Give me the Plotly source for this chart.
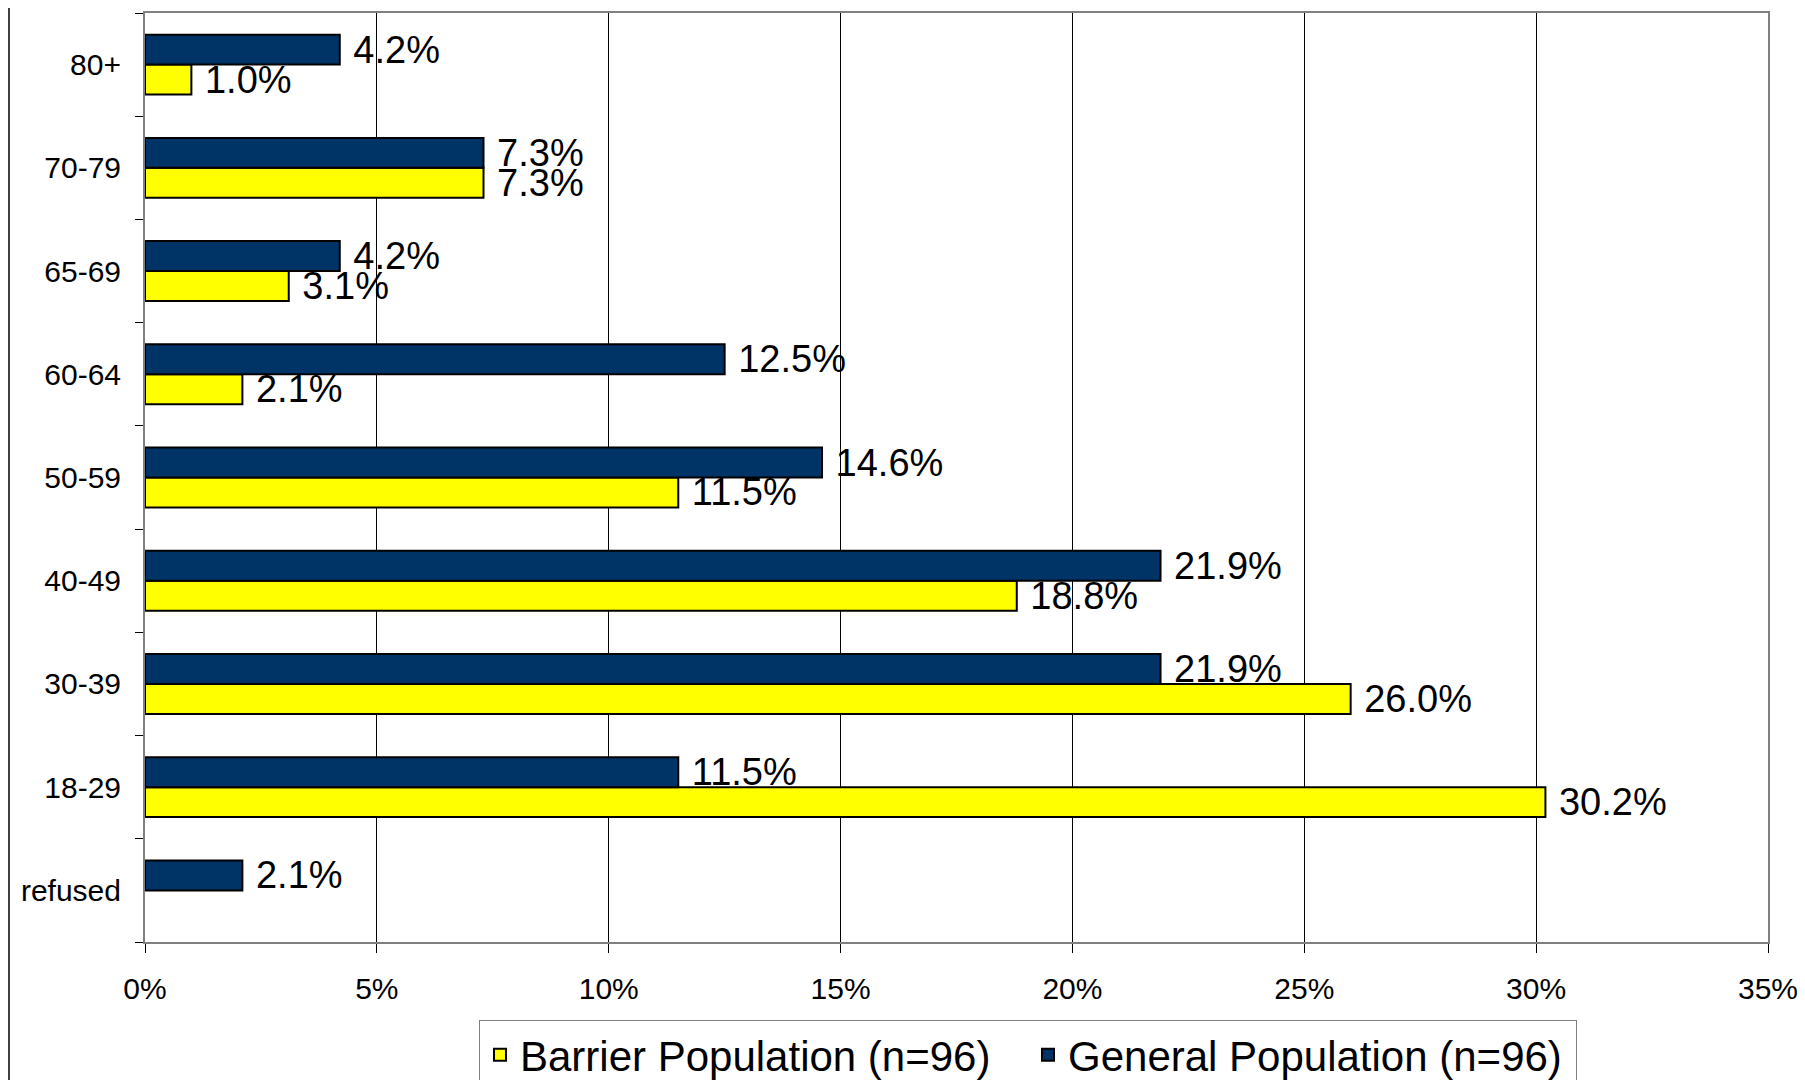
import plotly.graph_objects as go

# Categories listed bottom to top
categories = ["refused", "18-29", "30-39", "40-49", "50-59", "60-64", "65-69", "70-79", "80+"]
barrier = [None, 30.2, 26.0, 18.8, 11.5, 2.1, 3.1, 7.3, 1.0]
general = [2.1, 11.5, 21.9, 21.9, 14.6, 12.5, 4.2, 7.3, 4.2]
x_ticks = [0, 5, 10, 15, 20, 25, 30, 35]
x_tick_labels = ["0%", "5%", "10%", "15%", "20%", "25%", "30%", "35%"]

FONT = "Liberation Sans, Arial, sans-serif"
W, H = 1805, 1080
OFF = 8  # page body margin offset
L, R, T, B = 145 - OFF, 37 + OFF, 13 - OFF, 138 + OFF
plot_w = W - L - R
plot_h = H - T - B

fig = go.Figure()
fig.add_trace(go.Bar(
    y=categories, x=barrier, orientation="h", name="Barrier Population (n=96)",
    marker=dict(color="#FFFF00", line=dict(color="#000000", width=2)),
    texttemplate="\u00a0%{x:.1f}%", textposition="outside", constraintext="none",
    cliponaxis=False, textfont=dict(size=38, color="#000000", family=FONT),
))
fig.add_trace(go.Bar(
    y=categories, x=general, orientation="h", name="General Population (n=96)",
    marker=dict(color="#003366", line=dict(color="#000000", width=2)),
    texttemplate="\u00a0%{x:.1f}%", textposition="outside", constraintext="none",
    cliponaxis=False, textfont=dict(size=38, color="#000000", family=FONT),
))

fig.update_layout(
    width=W, height=H,
    margin=dict(l=L, r=R, t=T, b=B, pad=0, autoexpand=False),
    paper_bgcolor="white", plot_bgcolor="white",
    barmode="group", bargap=0.42, bargroupgap=0,
    font=dict(family=FONT, color="#000000"),
    showlegend=True,
    legend=dict(
        orientation="h",
        x=(479 - OFF - L) / plot_w, xanchor="left",
        y=(plot_h - (1020 - OFF - T)) / plot_h, yanchor="top",
        bordercolor="#808080", borderwidth=1, bgcolor="white",
        font=dict(size=42, family=FONT, color="#000000"),
        traceorder="normal",
        entrywidth=503, entrywidthmode="pixels",
    ),
    xaxis=dict(
        range=[0, 35], tickvals=x_ticks, ticktext=x_tick_labels,
        showgrid=True, gridcolor="#000000", gridwidth=1,
        zeroline=False, automargin=False,
        showline=True, linecolor="#808080", linewidth=2, mirror=True,
        ticks="outside", ticklen=9, tickcolor="#000000", tickwidth=1,
        tickfont=dict(size=30, family=FONT, color="#000000"),
        ticklabelstandoff=10,
    ),
    yaxis=dict(
        categoryorder="array", categoryarray=categories,
        showgrid=False, zeroline=False, automargin=False,
        showline=True, linecolor="#808080", linewidth=2, mirror=True,
        ticks="outside", tickson="boundaries", ticklen=8, tickcolor="#000000", tickwidth=1,
        tickfont=dict(size=30, family=FONT, color="#000000"),
        ticklabelstandoff=16,
    ),
)

# Outer chart-area edge line on the left
fig.add_shape(type="line", xref="paper", yref="paper",
              x0=(1 - L) / plot_w, x1=(1 - L) / plot_w,
              y0=-(B) / plot_h, y1=1 + T / plot_h,
              line=dict(color="#000000", width=1.5))

fig.write_html("out.html")
